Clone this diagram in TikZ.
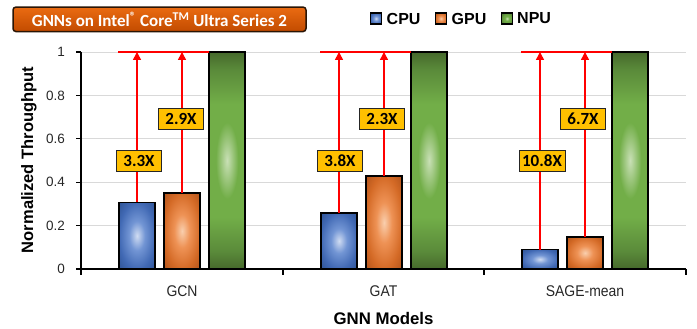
\documentclass[tikz,border=0pt]{standalone}
\usepackage{fontspec}
\setmainfont{Liberation Sans}
\newfontfamily\carlito{Carlito}
\newfontfamily\narrowsans[FakeStretch=0.9]{Liberation Sans}
\usetikzlibrary{arrows.meta,shapes.geometric}
\definecolor{cpuC}{HTML}{D0DCF2}
\definecolor{cpuM}{HTML}{7295D4}
\definecolor{cpuE}{HTML}{4169B4}
\definecolor{cpuK}{HTML}{2E5394}
\definecolor{gpuC}{HTML}{F9CFAE}
\definecolor{gpuM}{HTML}{EE9255}
\definecolor{gpuE}{HTML}{D46A26}
\definecolor{gpuK}{HTML}{B0521A}
\definecolor{npuC}{HTML}{C9E0B6}
\definecolor{npuM}{HTML}{72AE48}
\definecolor{npuS}{HTML}{68A042}
\definecolor{npuE}{HTML}{5A8A3A}
\definecolor{npuK}{HTML}{46692C}
\definecolor{gridc}{HTML}{D9D9D9}
\definecolor{lblfill}{HTML}{FFC000}
\definecolor{titletop}{HTML}{EA6B12}
\definecolor{titlebot}{HTML}{C24B00}
\definecolor{titleedge}{HTML}{2A1505}
\definecolor{textc}{HTML}{262626}
\pgfdeclareradialshading{cpushade}{\pgfpoint{0bp}{0bp}}{color(0bp)=(cpuC); color(11bp)=(cpuM); color(25bp)=(cpuE); color(36bp)=(cpuK); color(50bp)=(cpuK)}
\pgfdeclareradialshading{gpushade}{\pgfpoint{0bp}{0bp}}{color(0bp)=(gpuC); color(11bp)=(gpuM); color(25bp)=(gpuE); color(36bp)=(gpuK); color(50bp)=(gpuK)}
\pgfdeclareradialshading{npushade}{\pgfpoint{0bp}{0bp}}{color(0bp)=(npuC); color(10bp)=(npuM); color(20bp)=(npuS); color(25bp)=(npuE); color(36bp)=(npuK); color(50bp)=(npuK)}
\pgfdeclareverticalshading{npuvert}{100bp}{color(0bp)=(npuK); color(25bp)=(npuK); color(29bp)=(npuE); color(37bp)=(npuM); color(63bp)=(npuM); color(71bp)=(npuE); color(75bp)=(npuK); color(100bp)=(npuK)}
\pgfdeclareradialshading{npuglow}{\pgfpoint{0bp}{0bp}}{color(0bp)=(npuC); color(17bp)=(npuM); color(25bp)=(npuM); color(50bp)=(npuM)}
\begin{document}
\begin{tikzpicture}[x=1pt,y=-1pt,
  barbase/.style={draw=black, line width=1.6pt, minimum width=36pt, inner sep=0pt, outer sep=0pt, anchor=south, shade},
  cpubar/.style={barbase, shading=cpushade},
  gpubar/.style={barbase, shading=gpushade},
  npubar/.style={barbase, shading=npuvert},
  glow/.style={ellipse, shade, shading=npuglow, minimum width=33pt, minimum height=112pt, inner sep=0pt},
  barframe/.style={draw=black, line width=1.6pt},
  gain/.style={draw=red, line width=1.5pt, -{Triangle[length=8pt,width=8pt]}},
  refline/.style={draw=red, line width=1.6pt},
  lbl/.style={fill=lblfill, draw=black!85, line width=0.7pt, minimum width=45pt, minimum height=21pt, inner sep=0pt, font=\carlito\bfseries\fontsize{17}{17}\selectfont},
  ticklbl/.style={anchor=east, inner sep=0pt, text=textc, font=\fontsize{13.5}{13.5}\selectfont},
  catlbl/.style={inner sep=0pt, text=textc, font=\narrowsans\fontsize{15.5}{15.5}\selectfont},
  legsq/.style={draw=black, line width=1.2pt, minimum size=11pt, inner sep=0pt, shade},
  legtxt/.style={anchor=west, inner sep=0pt, font=\bfseries\fontsize{16}{16}\selectfont},
  titlebox/.style={rounded corners=3pt, top color=titletop, bottom color=titlebot, draw=titleedge, line width=1.5pt, minimum width=293pt, minimum height=24.5pt, inner sep=0pt, text=white, font=\carlito\bfseries\fontsize{17}{17}\selectfont}
]
\useasboundingbox (0,0) rectangle (697,329);
% grid
\foreach \v in {0.2,0.4,0.6,0.8,1}
  \draw[gridc, line width=0.9pt] (81,{269-217*\v}) -- (686,{269-217*\v});
% bars
\foreach \c/\n/\hc/\hg in {182/1/66.6/76.0, 384/2/56.2/92.9, 585/3/19.5/32.3}{
  \node[cpubar, minimum height=\hc pt] (cpu\n) at ({\c-45},269) {};
  \node[gpubar, minimum height=\hg pt] (gpu\n) at (\c,269) {};
  \node[npubar, minimum height=217pt] (npu\n) at ({\c+45},269) {};
  \node[glow] (glow\n) at (npu\n.center) {};
  \draw[barframe] (npu\n.south west) rectangle (npu\n.north east);
  \coordinate (left\n) at ({\c-64},52);
  \coordinate (topc\n) at ({\c-45},52);
  \coordinate (topg\n) at (\c,52);
  \draw[refline] (left\n) -- (npu\n.north west);
  \draw[gain] (cpu\n.north) -- (topc\n);
  \draw[gain] (gpu\n.north) -- (topg\n);
}
% gain labels
\node[lbl] (l1c) at (139,160.5) {3.3X};
\node[lbl] (l1g) at (181,118.5) {2.9X};
\node[lbl] (l2c) at (340,160.5) {3.8X};
\node[lbl] (l2g) at (382,118.5) {2.3X};
\node[lbl, minimum width=46pt] (l3c) at (542,160.5) {10.8X};
\node[lbl] (l3g) at (583,118.5) {6.7X};
% axes
\draw[black, line width=1.1pt] (81,52) -- (81,269) -- (686,269);
\foreach \v in {0,0.2,0.4,0.6,0.8,1}
  \draw[black, line width=1.1pt] (76,{269-217*\v}) -- (81,{269-217*\v});
\foreach \x in {81,283,484,686}
  \draw[black, line width=1.1pt] (\x,269) -- (\x,274.5);
\foreach \v/\t [count=\i] in {0/0,0.2/0.2,0.4/0.4,0.6/0.6,0.8/0.8,1/1}
  \node[ticklbl] (yt\i) at (65,{269-217*\v}) {\t};
\node[catlbl] (cat1) at (182,291) {GCN};
\node[catlbl] (cat2) at (383.5,291) {GAT};
\node[catlbl] (cat3) at (585,291) {SAGE-mean};
\node[inner sep=0pt, font=\bfseries\fontsize{16.8}{16.8}\selectfont] (xtitle) at (383.5,318) {GNN Models};
\node[rotate=90, inner sep=0pt, font=\bfseries\fontsize{16.5}{16.5}\selectfont] (ytitle) at (29,160) {Normalized Throughput};
% legend
\node[legsq, shading=cpushade] (sqc) at (376,18.5) {};
\node[legtxt] (txc) at (386.5,18.5) {CPU};
\node[legsq, shading=gpushade] (sqg) at (441,18.5) {};
\node[legtxt] (txg) at (451.5,18.5) {GPU};
\node[legsq, shading=npushade] (sqn) at (507,18.5) {};
\node[legtxt] (txn) at (517,18.5) {NPU};
% title
\node[titlebox] (title) at (159.5,19.3) {GNNs on Intel\textsuperscript{®} Core\textsuperscript{TM} Ultra Series 2};
\end{tikzpicture}
\end{document}
